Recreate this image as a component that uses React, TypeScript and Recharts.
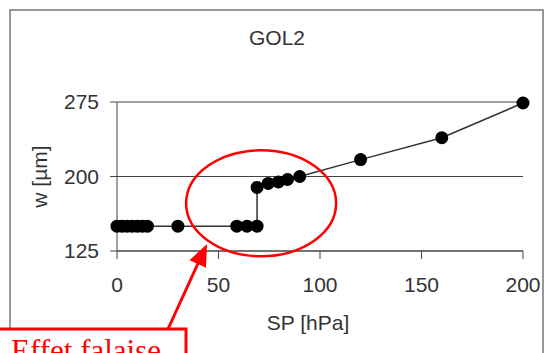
import React from "react";
import {
  LineChart,
  Line,
  XAxis,
  YAxis,
  CartesianGrid,
  Label,
  ReferenceDot,
} from "recharts";

// SP [hPa] and w [µm]
const spValues = [0, 2.5, 5, 7.5, 10, 12.5, 15, 30, 59, 64, 69, 69, 74.5, 79.5, 84, 90, 120, 160, 200];
const wValues = [150, 150, 150, 150, 150, 150, 150, 150, 150, 150, 150, 189, 193, 194.5, 197, 200, 217, 239, 274];
const xTicks = [0, 50, 100, 150, 200];
const yTicks = [125, 200, 275];

// the "cliff" zone circled in red
const cliffCenter = { sp: 71, w: 173 };

const data = spValues.map((sp, i) => ({ sp, w: wValues[i] }));

const sans = "'Liberation Sans', Arial, sans-serif";
const textStyle = { fill: "#333", fontSize: 21, fontFamily: sans };

const CliffEllipse = (props: any) => (
  <ellipse
    cx={props.cx}
    cy={props.cy}
    rx={75}
    ry={53}
    fill="none"
    stroke="#ff0000"
    strokeWidth={2.5}
  />
);

export default function App() {
  return (
    <div
      style={{
        position: "absolute",
        left: 0,
        top: 0,
        width: 544,
        height: 353,
        background: "#fff",
        overflow: "hidden",
      }}
    >
      <LineChart
        width={544}
        height={353}
        data={data}
        margin={{ top: 102, right: 21, bottom: 72, left: 37 }}
      >
        <CartesianGrid vertical={false} stroke="#444" />
        <XAxis
          type="number"
          dataKey="sp"
          domain={[0, 200]}
          ticks={xTicks}
          height={30}
          tickSize={8}
          tickMargin={18}
          stroke="#444"
          tick={textStyle}
        >
          <Label
            value="SP [hPa]"
            position="bottom"
            offset={34}
            dx={-12}
            style={textStyle}
          />
        </XAxis>
        <YAxis
          type="number"
          domain={[125, 275]}
          ticks={yTicks}
          width={80}
          tickSize={7}
          tickMargin={11}
          stroke="#444"
          tick={textStyle}
        >
          <Label
            value="w [µm]"
            angle={-90}
            position="insideLeft"
            offset={3}
            style={{ ...textStyle, textAnchor: "middle" }}
          />
        </YAxis>
        <Line
          type="linear"
          dataKey="w"
          stroke="#333"
          strokeWidth={1.5}
          dot={{ r: 6.5, fill: "#000", stroke: "#000", strokeWidth: 0 }}
          activeDot={false}
          isAnimationActive={false}
        />
        <ReferenceDot
          x={cliffCenter.sp}
          y={cliffCenter.w}
          ifOverflow="visible"
          shape={CliffEllipse}
        />
      </LineChart>

      {/* chart frame, title and the pasted-on annotation */}
      <svg
        width={544}
        height={353}
        style={{ position: "absolute", left: 0, top: 0, pointerEvents: "none" }}
      >
        <path d="M10 353 V10 H543 V353" fill="none" stroke="#777" strokeWidth={1.5} />
        <text x={277} y={45} textAnchor="middle" style={textStyle}>
          GOL2
        </text>
        <line x1={168} y1={329} x2={200} y2={259} stroke="#ff0000" strokeWidth={3} />
        <polygon points="207,244 189.6,260.2 206,267.8" fill="#ff0000" />
        <rect x={-3} y={329} width={189} height={40} fill="#fff" stroke="#ff0000" strokeWidth={3} />
        <text
          x={11}
          y={361}
          fill="#ff0000"
          style={{ fontFamily: "'Liberation Serif', 'Times New Roman', serif", fontSize: 31 }}
        >
          Effet falaise
        </text>
      </svg>
    </div>
  );
}
